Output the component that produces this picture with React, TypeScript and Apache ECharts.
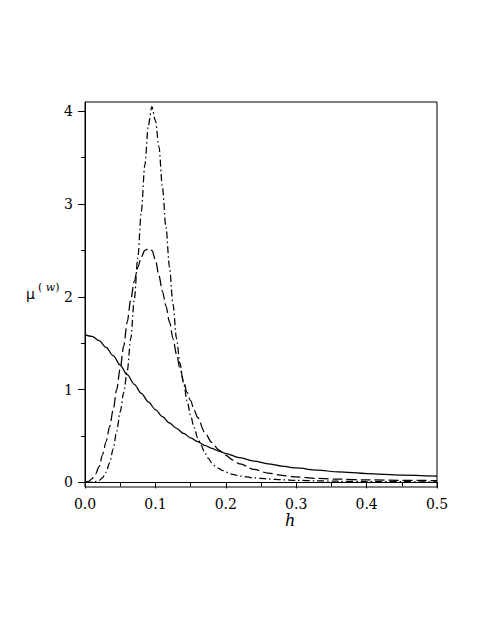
import React, { useEffect, useRef } from "react";
import * as echarts from "echarts";

const hSolid = [0, 0.01, 0.02, 0.03, 0.04, 0.05, 0.06, 0.07, 0.08, 0.09, 0.1, 0.11, 0.12, 0.13, 0.14, 0.15, 0.16, 0.17, 0.18, 0.19, 0.2, 0.22, 0.24, 0.26, 0.28, 0.3, 0.33, 0.36, 0.4, 0.45, 0.5];
const vSolid = [1.59, 1.574, 1.527, 1.455, 1.365, 1.265, 1.16, 1.057, 0.959, 0.867, 0.784, 0.708, 0.641, 0.581, 0.527, 0.48, 0.438, 0.4, 0.367, 0.337, 0.311, 0.266, 0.23, 0.2, 0.175, 0.155, 0.132, 0.113, 0.095, 0.079, 0.066];

const hDashed = [0, 0.005, 0.01, 0.015, 0.02, 0.025, 0.03, 0.035, 0.04, 0.045, 0.05, 0.055, 0.06, 0.065, 0.07, 0.075, 0.08, 0.085, 0.09, 0.095, 0.1, 0.105, 0.11, 0.115, 0.12, 0.125, 0.13, 0.135, 0.14, 0.145, 0.15, 0.155, 0.16, 0.17, 0.18, 0.19, 0.2, 0.21, 0.22, 0.24, 0.26, 0.28, 0.3, 0.33, 0.36, 0.4, 0.45, 0.5];
const vDashed = [0, 0.01, 0.04, 0.09, 0.17, 0.3, 0.44, 0.6, 0.78, 1.0, 1.23, 1.47, 1.73, 1.97, 2.17, 2.32, 2.43, 2.5, 2.52, 2.5, 2.4, 2.23, 2.06, 1.9, 1.73, 1.55, 1.38, 1.23, 1.09, 0.97, 0.88, 0.78, 0.7, 0.54, 0.43, 0.35, 0.29, 0.24, 0.2, 0.14, 0.1, 0.075, 0.058, 0.042, 0.034, 0.027, 0.022, 0.019];

const hDashDot = [0, 0.005, 0.01, 0.015, 0.02, 0.025, 0.03, 0.035, 0.04, 0.045, 0.05, 0.055, 0.06, 0.065, 0.07, 0.075, 0.08, 0.085, 0.09, 0.095, 0.1, 0.105, 0.11, 0.115, 0.12, 0.125, 0.13, 0.135, 0.14, 0.145, 0.15, 0.155, 0.16, 0.165, 0.17, 0.175, 0.18, 0.185, 0.19, 0.195, 0.2, 0.21, 0.22, 0.24, 0.26, 0.28, 0.3, 0.33, 0.36, 0.4, 0.45, 0.5];
const vDashDot = [0, 0, 0.002, 0.008, 0.02, 0.05, 0.11, 0.21, 0.36, 0.55, 0.76, 0.97, 1.2, 1.55, 1.97, 2.42, 2.92, 3.42, 3.85, 4.05, 3.9, 3.62, 3.18, 2.75, 2.32, 1.92, 1.55, 1.28, 1.07, 0.88, 0.72, 0.59, 0.48, 0.4, 0.32, 0.26, 0.21, 0.175, 0.15, 0.128, 0.11, 0.085, 0.068, 0.048, 0.036, 0.028, 0.022, 0.016, 0.012, 0.009, 0.007, 0.005];

const xTicks = [0, 0.1, 0.2, 0.3, 0.4, 0.5];
const yMajorTicks = [0, 1, 2, 3, 4];
const yMinorTicks = [0.5, 1.5, 2.5, 3.5];

const FONT = "'DejaVu Serif', serif";
const SANS = "'DejaVu Sans', sans-serif";

const zip = (h: number[], v: number[]) => h.map((x, i) => [x, v[i]]);

export default function App() {
  const ref = useRef<HTMLDivElement>(null);
  useEffect(() => {
    if (!ref.current) return;
    const chart = echarts.init(ref.current, undefined, { renderer: "svg" });
    const baseLine = { color: "#000", width: 1.25 };
    chart.setOption({
      animation: false,
      backgroundColor: "#fff",
      grid: {
        left: 85,
        right: 48,
        top: 102,
        bottom: 140,
        show: true,
        borderColor: "#000",
        borderWidth: 1,
        containLabel: false,
        outerBoundsMode: "none",
      },
      xAxis: {
        type: "value",
        min: 0,
        max: 0.5,
        interval: 0.1,
        axisLine: { show: true, lineStyle: { color: "#000", width: 1 } },
        axisTick: { show: true, length: 6, lineStyle: { color: "#000" }, customValues: xTicks },
        minorTick: { show: true, splitNumber: 2, length: 4, lineStyle: { color: "#000" } },
        axisLabel: {
          color: "#000",
          fontFamily: FONT,
          fontSize: 14,
          margin: 10,
          customValues: xTicks,
          formatter: (v: number) => v.toFixed(1),
        },
        splitLine: { show: false },
      },
      yAxis: [
        {
          type: "value",
          min: -0.05,
          max: 4.1,
          axisLine: { show: true, lineStyle: { color: "#000", width: 1 } },
          axisTick: { show: true, length: 7, lineStyle: { color: "#000" }, customValues: yMajorTicks },
          axisLabel: {
            color: "#000",
            fontFamily: FONT,
            fontSize: 14,
            margin: 12,
            customValues: yMajorTicks,
            formatter: (v: number) => String(v),
          },
          splitLine: { show: false },
        },
        {
          type: "value",
          min: -0.05,
          max: 4.1,
          position: "left",
          axisLine: { show: false },
          axisTick: { show: true, length: 4, lineStyle: { color: "#000" }, customValues: yMinorTicks },
          axisLabel: { show: false },
          splitLine: { show: false },
        },
      ],
      graphic: [
        {
          type: "text",
          left: 285,
          top: 512,
          style: { text: "h", fontFamily: FONT, fontStyle: "italic", fontSize: 16, fill: "#000" },
        },
        {
          type: "text",
          left: 26,
          top: 287,
          style: { text: "μ", fontFamily: SANS, fontSize: 14, fill: "#000" },
        },
        {
          type: "text",
          left: 38,
          top: 282,
          style: {
            text: "( {i|w})",
            fontFamily: FONT,
            fontSize: 11,
            fill: "#000",
            rich: { i: { fontFamily: FONT, fontStyle: "italic", fontSize: 11, fill: "#000" } },
          },
        },
      ],
      series: [
        {
          type: "line",
          data: zip(hSolid, vSolid),
          showSymbol: false,
          smooth: 0.3,
          smoothMonotone: "x",
          lineStyle: { ...baseLine, type: "solid" },
        },
        {
          type: "line",
          data: zip(hDashed, vDashed),
          showSymbol: false,
          smooth: 0.3,
          smoothMonotone: "x",
          lineStyle: { ...baseLine, type: [10, 4] },
        },
        {
          type: "line",
          data: zip(hDashDot, vDashDot),
          showSymbol: false,
          smooth: 0.3,
          smoothMonotone: "x",
          lineStyle: { ...baseLine, type: [7, 3, 1.5, 3] },
        },
      ],
    });
    return () => chart.dispose();
  }, []);
  return (
    <div
      ref={ref}
      style={{ position: "absolute", left: 0, top: 0, width: 485, height: 627 }}
    />
  );
}
